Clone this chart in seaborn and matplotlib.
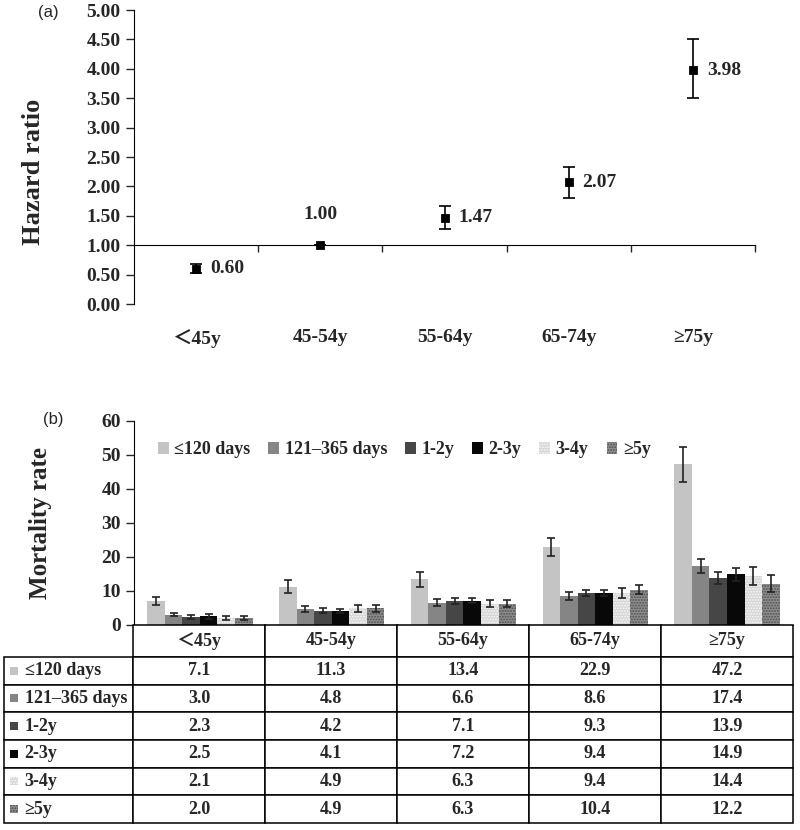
import numpy as np
import pandas as pd
import matplotlib
matplotlib.use("Agg")
import matplotlib.pyplot as plt
import seaborn as sns
from matplotlib.patches import Rectangle
from matplotlib.table import Table

ages = ["＜45y", "45-54y", "55-64y", "65-74y", "≥75y"]

# panel (a): hazard ratios with 95% CI
hr = [0.60, 1.00, 1.47, 2.07, 3.98]
hr_low = [0.52, 1.00, 1.27, 1.80, 3.50]
hr_high = [0.68, 1.00, 1.66, 2.33, 4.50]

# panel (b): mortality rate by time since onset
periods = ["≤120 days", "121–365 days", "1-2y", "2-3y", "3-4y", "≥5y"]
rate_120d = [7.1, 11.3, 13.4, 22.9, 47.2]
rate_365d = [3.0, 4.8, 6.6, 8.6, 17.4]
rate_1_2y = [2.3, 4.2, 7.1, 9.3, 13.9]
rate_2_3y = [2.5, 4.1, 7.2, 9.4, 14.9]
rate_3_4y = [2.1, 4.9, 6.3, 9.4, 14.4]
rate_5y = [2.0, 4.9, 6.3, 10.4, 12.2]
err_120d = [1.1, 1.8, 2.1, 2.7, 5.1]
err_365d = [0.5, 0.9, 1.0, 1.2, 2.0]
err_1_2y = [0.5, 0.7, 0.8, 0.9, 1.8]
err_2_3y = [0.6, 0.7, 0.8, 1.0, 1.9]
err_3_4y = [0.5, 1.0, 1.1, 1.5, 2.6]
err_5y = [0.5, 1.0, 1.1, 1.4, 2.4]

rates = [rate_120d, rate_365d, rate_1_2y, rate_2_3y, rate_3_4y, rate_5y]
errs = [err_120d, err_365d, err_1_2y, err_2_3y, err_3_4y, err_5y]
colors = ["#c4c4c4", "#858585", "#464646", "#080808", "#d6d6d6", "#8e8e8e"]
hatches = [None, None, None, None, "......", "......"]
hatch_cols = [None, None, None, None, "#f8f8f8", "#4e4e4e"]

sns.set_style("ticks")
plt.rcParams["font.family"] = ["Liberation Serif", "Noto Sans CJK SC"]
plt.rcParams["font.weight"] = "bold"
plt.rcParams["hatch.linewidth"] = 0.9

fig = plt.figure(figsize=(8, 8.3), dpi=100)

# ---- (a)
ax1 = fig.add_axes([0.1675, 0.6337, 0.7763, 0.3542])
df_a = pd.DataFrame({"age": ages, "hr": hr})
sns.pointplot(data=df_a, x="age", y="hr", ax=ax1, color="black", markers="s",
              linestyle="none", errorbar=None, markersize=4.5)
x = np.arange(len(ages))
lo = np.array(hr) - np.array(hr_low)
hi = np.array(hr_high) - np.array(hr)
ax1.errorbar(x, hr, yerr=[lo, hi], fmt="none", ecolor="black", capsize=4, elinewidth=1.2, capthick=1.2)
for i, v in enumerate(hr):
    if i == 1:
        ax1.annotate(f"{v:.2f}", (i, v), xytext=(0, 22), textcoords="offset points",
                     ha="center", va="center", fontsize=14, fontweight="bold")
    else:
        ax1.annotate(f"{v:.2f}", (i, v), xytext=(10, 0), textcoords="offset points",
                     ha="left", va="center", fontsize=14, fontweight="bold")

ax1.set_xlim(-0.5, len(ages) - 0.5)
ax1.set_ylim(0, 5)
ax1.set_yticks(np.arange(0, 5.01, 0.5))
ax1.set_yticklabels([f"{t:.2f}" for t in np.arange(0, 5.01, 0.5)])
ax1.set_xticks(x + 0.5, labels=[""] * len(ages))
ax1.set_xticks(x, labels=ages, minor=True)
ax1.tick_params(axis="x", which="major", length=5, width=1, direction="out")
ax1.tick_params(axis="x", which="minor", length=0, pad=60, labelsize=14)
ax1.tick_params(axis="y", length=6, width=1, labelsize=14)
for lab in ax1.get_xticklabels(minor=True) + ax1.get_yticklabels():
    lab.set_fontweight("bold")
ax1.spines["top"].set_visible(False)
ax1.spines["right"].set_visible(False)
ax1.spines["bottom"].set_position(("data", 1.0))
ax1.spines["bottom"].set_color("black")
ax1.spines["left"].set_color("black")
ax1.set_xlabel("")
ax1.set_ylabel("Hazard ratio", fontsize=19, fontweight="bold")
ax1.yaxis.set_label_coords(-0.143, 0.45)

# ---- (b)
ax2 = fig.add_axes([0.1675, 0.247, 0.8237, 0.2458])
df_b = pd.DataFrame({
    "age": np.tile(ages, len(periods)),
    "period": np.repeat(periods, len(ages)),
    "rate": np.concatenate(rates),
})
sns.barplot(data=df_b, x="age", y="rate", hue="period", hue_order=periods, order=ages,
            palette=colors, errorbar=None, ax=ax2, saturation=1, linewidth=0, legend=False)
bar_sets = list(ax2.containers)
for cont, e, h, hc in zip(bar_sets, errs, hatches, hatch_cols):
    cx, cy = [], []
    for bar in cont:
        if h:
            bar.set_hatch(h)
            bar.set_edgecolor(hc)
            bar.set_linewidth(0)
        cx.append(bar.get_x() + bar.get_width() / 2)
        cy.append(bar.get_height())
    ax2.errorbar(cx, cy, yerr=e, fmt="none", ecolor="#222222", capsize=3, elinewidth=1.2, capthick=1.2)

ax2.legend(handles=bar_sets, labels=periods, loc="center left",
           bbox_to_anchor=(0.036, 0.858), ncol=6, frameon=False, borderpad=0, borderaxespad=0,
           handlelength=0.6, handleheight=0.6, handletextpad=0.3, columnspacing=1.0,
           prop={"size": 13, "weight": "bold"})
ax2.set_xlim(-0.5, len(ages) - 0.5)
ax2.set_ylim(0, 60)
ax2.set_yticks(np.arange(0, 61, 10))
ax2.set_xticks([])
ax2.tick_params(axis="y", length=6, width=1, labelsize=14)
for lab in ax2.get_yticklabels():
    lab.set_fontweight("bold")
ax2.spines["top"].set_visible(False)
ax2.spines["right"].set_visible(False)
ax2.spines["bottom"].set_color("black")
ax2.spines["left"].set_color("black")
ax2.set_xlabel("")
ax2.set_ylabel("Mortality rate", fontsize=18, fontweight="bold")
ax2.yaxis.set_label_coords(-0.124, 0.5)

# ---- table under (b)
tax = fig.add_axes([4 / 800, 1 - 823 / 830, 789 / 800, 198 / 830])
tax.axis("off")
head_h, row_h = 32, 27.67
lab_w, col_w = 129, 132
tbl = Table(tax, bbox=[0, 0, 1, 1])
corner = tbl.add_cell(0, 0, width=lab_w, height=head_h, text="")
corner.visible_edges = "open"
for j, a in enumerate(ages):
    tbl.add_cell(0, j + 1, width=col_w, height=head_h, text=a, loc="center")
for i, (p, row) in enumerate(zip(periods, rates)):
    c = tbl.add_cell(i + 1, 0, width=lab_w, height=row_h, text=p, loc="left")
    c.PAD = 0.16
    for j, v in enumerate(row):
        tbl.add_cell(i + 1, j + 1, width=col_w, height=row_h, text=f"{v:.1f}", loc="center")
tbl.auto_set_font_size(False)
tbl.set_fontsize(13)
for cell in tbl.get_celld().values():
    cell.set_linewidth(1.1)
    cell.set_edgecolor("black")
    cell.get_text().set_fontweight("bold")
tax.add_table(tbl)

total_h = head_h + row_h * len(periods)
total_w = lab_w + col_w * len(ages)
for i, (col, h, hc) in enumerate(zip(colors, hatches, hatch_cols)):
    yc = 1 - (head_h + (i + 0.5) * row_h) / total_h
    tax.add_patch(Rectangle((6 / total_w, yc - 4 / total_h), 8 / total_w, 8 / total_h,
                            transform=tax.transAxes, facecolor=col, edgecolor=hc if hc else col,
                            hatch=h, linewidth=0, clip_on=False, zorder=5))

fig.text(0.047, 0.9855, "(a)", fontsize=12, fontweight="normal", family="Liberation Sans",
         ha="left", va="center")
fig.text(0.054, 0.495, "(b)", fontsize=12, fontweight="normal", family="Liberation Sans",
         ha="left", va="center")

fig.savefig("out.png", dpi=100)
